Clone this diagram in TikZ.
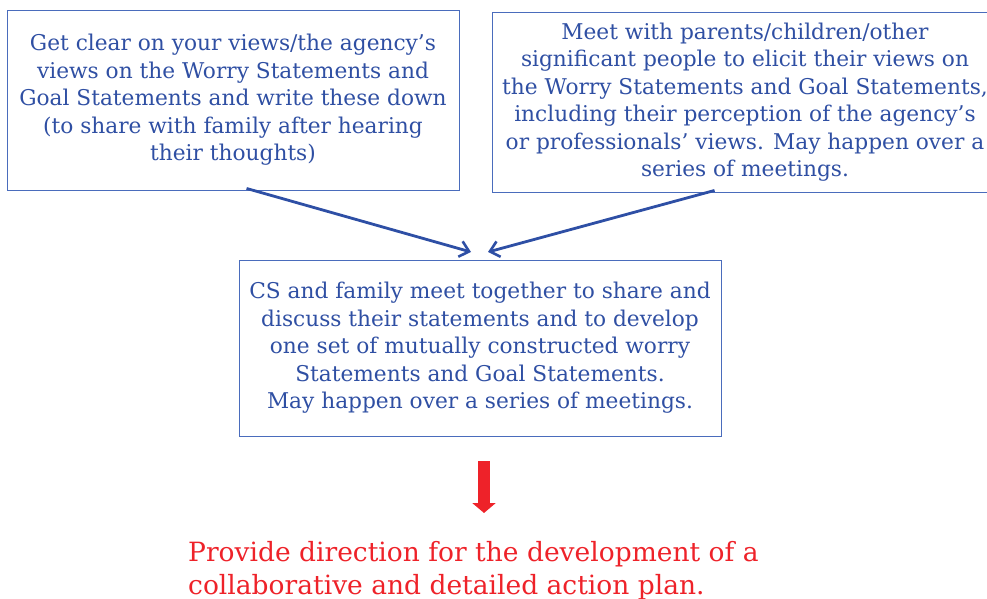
\documentclass[tikz,border=0pt]{standalone}
\usepackage{fontspec}
\setmainfont{DejaVu Serif}
\usetikzlibrary{arrows.meta,calc}
\definecolor{txtblue}{HTML}{2F4FA3}
\definecolor{boxblue}{HTML}{4A6CBC}
\definecolor{arrblue}{HTML}{2E4FA5}
\definecolor{redc}{HTML}{EE2229}
\tikzset{
  stepbox/.style={draw=boxblue, line width=0.9pt, text=txtblue, align=center, inner sep=0pt,
    font=\fontsize{21.7}{27.5}\selectfont},
  flow/.style={draw=arrblue, line width=2.8pt, -{Straight Barb[length=9pt,width=16pt,line width=2.6pt]}},
  bigdown/.style={draw=redc, line width=12pt, -{Triangle[length=10pt,width=23pt]}},
  outcome/.style={text=redc, align=left, inner sep=0pt, anchor=north west,
    font=\fontsize{26.5}{33}\selectfont}
}
\begin{document}
\begin{tikzpicture}[x=1pt,y=-1pt]
\useasboundingbox (0,0) rectangle (987,599);
\begin{scope}
\clip (0,0) rectangle (987,599);
\node[stepbox, minimum width=452pt, minimum height=180pt] (A) at (233,100)
  {Get clear on your views/the agency’s\\views on the Worry Statements and\\Goal Statements and write these down\\(to share with family after hearing\\their thoughts)};
\node[stepbox, minimum width=506pt, minimum height=180pt] (B) at (745,102)
  {Meet with parents/children/other\\significant people to elicit their views on\\the Worry Statements and Goal Statements,\\including their perception of the agency’s\\or professionals’ views. May happen over a\\series of meetings.};
\end{scope}
\node[stepbox, minimum width=482pt, minimum height=176pt] (C) at (480,348)
  {CS and family meet together to share and\\discuss their statements and to develop\\one set of mutually constructed worry\\Statements and Goal Statements.\\May happen over a series of meetings.};
\coordinate (a1) at ($(A.south west)+(240,-2)$);
\coordinate (b1) at ($(B.south west)+(223,-2)$);
\coordinate (m1) at (471,252);
\coordinate (m2) at (488,252);
\draw[flow] (a1) -- (m1);
\draw[flow] (b1) -- (m2);
\node[outcome] (D) at (188,541) {Provide direction for the development of a\\collaborative and detailed action plan.};
\coordinate (r1) at (484,461);
\coordinate (r2) at (484,513);
\draw[bigdown] (r1) -- (r2);
\end{tikzpicture}
\end{document}
